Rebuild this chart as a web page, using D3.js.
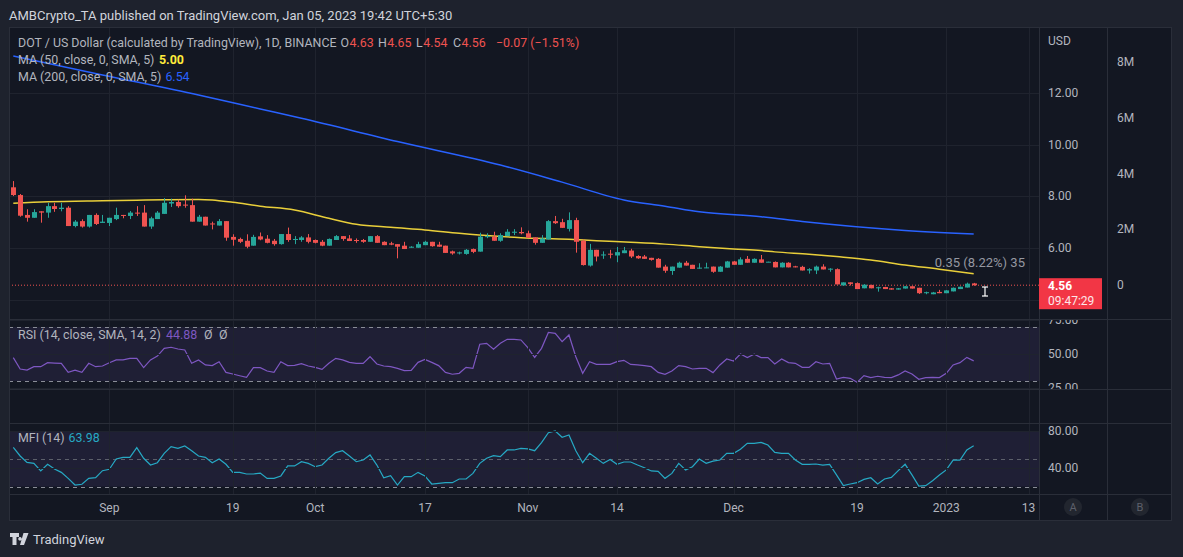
<!DOCTYPE html>
<html><head><meta charset="utf-8">
<script src="https://cdn.jsdelivr.net/npm/d3@7"></script>
<style>
html,body{margin:0;padding:0;background:#1e222d;}
svg{display:block;font-family:Roboto,"Noto Sans",sans-serif;}
</style></head><body>
<svg id="c" width="1183" height="557"></svg>
<script>
// ---------- DATA ----------
const startDate = new Date(Date.UTC(2022, 7, 18)); // first daily candle
const opens = [8.35,8.05,7.28,7.17,7.42,7.37,7.62,7.51,7.56,6.85,7.04,6.83,7.28,6.97,6.97,7.12,7.28,7.24,7.37,7.37,6.83,7.12,7.32,7.72,7.78,7.68,7.66,7.02,7.21,6.95,6.87,7.04,6.43,6.35,6.28,6.09,6.45,6.36,6.28,6.15,6.54,6.31,6.31,6.41,6.31,6.24,6.09,6.31,6.46,6.37,6.31,6.31,6.24,6.46,6.24,6.18,6.15,6.09,6.01,6.01,6.11,6.24,6.13,6.09,5.87,5.79,5.77,5.96,5.86,6.42,6.44,6.28,6.46,6.59,6.62,6.57,6.41,6.20,6.33,7.04,7.00,6.74,7.08,6.28,5.32,5.93,5.71,5.78,5.71,5.80,5.90,5.69,5.67,5.62,5.58,5.28,5.11,5.24,5.43,5.35,5.20,5.22,5.28,5.08,5.24,5.48,5.35,5.58,5.43,5.56,5.45,5.46,5.25,5.43,5.29,5.27,5.13,5.13,5.28,5.17,5.18,4.55,4.67,4.64,4.44,4.57,4.44,4.49,4.44,4.39,4.43,4.52,4.46,4.25,4.21,4.30,4.25,4.32,4.41,4.47,4.63];
const highs = [8.59,8.09,7.50,7.50,7.42,7.75,7.75,7.75,7.62,7.08,7.11,7.28,7.34,7.28,7.17,7.56,7.28,7.43,7.62,7.66,7.21,7.43,7.93,7.91,7.87,8.04,7.91,7.28,7.21,7.02,7.12,7.04,6.53,6.40,6.53,6.51,6.60,6.50,6.35,6.54,6.79,6.46,6.46,6.54,6.33,6.31,6.37,6.50,6.46,6.50,6.37,6.35,6.46,6.50,6.26,6.24,6.15,6.24,6.07,6.24,6.28,6.24,6.24,6.09,5.90,5.86,5.96,5.98,6.59,6.57,6.63,6.57,6.73,6.73,6.80,6.67,6.41,6.50,7.08,7.24,7.13,7.38,7.17,6.33,6.16,5.93,5.87,5.93,6.04,6.04,5.97,5.72,5.73,5.62,5.61,5.35,5.28,5.47,5.50,5.35,5.41,5.43,5.28,5.30,5.50,5.50,5.64,5.69,5.60,5.73,5.47,5.48,5.45,5.45,5.31,5.31,5.22,5.32,5.37,5.22,5.21,4.67,4.67,4.67,4.60,4.58,4.50,4.50,4.45,4.45,4.52,4.52,4.46,4.31,4.30,4.38,4.37,4.47,4.51,4.66,4.65];
const lows = [8.01,7.21,7.02,7.17,6.98,7.17,7.40,7.42,6.85,6.80,6.79,6.79,6.89,6.97,6.85,7.08,7.15,7.12,7.24,6.83,6.74,7.12,7.32,7.59,7.56,7.56,7.02,7.02,6.87,6.72,6.87,6.28,6.09,6.19,5.99,6.09,6.30,6.18,6.09,6.13,6.24,6.15,6.24,6.18,6.18,6.07,6.09,6.31,6.28,6.27,6.20,6.20,6.24,6.20,6.11,6.11,5.60,5.96,6.01,6.01,6.11,6.05,6.05,5.81,5.74,5.75,5.74,5.80,5.86,6.38,6.28,6.24,6.46,6.50,6.53,6.39,6.13,6.20,6.33,6.93,6.78,6.64,5.82,5.32,5.28,5.48,5.58,5.60,5.45,5.80,5.61,5.58,5.58,5.51,5.24,5.04,4.96,5.24,5.32,5.19,5.20,5.22,5.04,5.08,5.24,5.35,5.35,5.43,5.43,5.43,5.45,5.25,5.25,5.25,5.25,5.13,5.01,4.99,5.17,5.08,4.59,4.55,4.55,4.41,4.44,4.44,4.31,4.41,4.39,4.39,4.43,4.43,4.22,4.21,4.21,4.25,4.25,4.32,4.41,4.47,4.54];
const closes = [8.05,7.25,7.17,7.39,7.37,7.62,7.51,7.56,6.85,7.02,6.83,7.28,6.93,7.02,7.17,7.28,7.24,7.37,7.33,6.83,7.15,7.37,7.75,7.78,7.62,7.64,7.02,7.21,6.87,6.91,7.04,6.40,6.32,6.24,6.05,6.43,6.33,6.20,6.15,6.54,6.31,6.35,6.41,6.24,6.20,6.09,6.35,6.46,6.35,6.27,6.27,6.24,6.46,6.20,6.11,6.13,6.05,5.96,6.05,6.15,6.24,6.07,6.05,5.81,5.79,5.83,5.93,5.85,6.44,6.46,6.28,6.50,6.63,6.63,6.57,6.39,6.20,6.37,7.04,6.96,6.78,7.08,6.24,5.34,5.93,5.67,5.75,5.74,5.84,5.91,5.67,5.60,5.58,5.54,5.24,5.12,5.28,5.43,5.32,5.19,5.24,5.25,5.08,5.28,5.48,5.35,5.56,5.43,5.58,5.43,5.47,5.25,5.43,5.25,5.25,5.13,5.18,5.28,5.17,5.20,4.59,4.67,4.61,4.41,4.58,4.44,4.48,4.41,4.39,4.44,4.52,4.43,4.25,4.29,4.28,4.25,4.36,4.46,4.50,4.62,4.56];

const ma50Days = [0,5,13,18,22,27,29,32,36,41,46,50,55,60,65,70,74,81,85,90,95,100,105,109,111,116,120,125,130,135,140];
const ma50Vals = [7.73,7.79,7.83,7.85,7.87,7.88,7.86,7.77,7.62,7.47,7.15,6.92,6.80,6.70,6.57,6.46,6.40,6.34,6.28,6.22,6.15,6.05,5.96,5.90,5.85,5.76,5.67,5.54,5.34,5.18,5.00];
const ma200Days = [0,13,27,36,42,56,71,80,89,95,100,109,115,129,140];
const ma200Vals = [13.43,12.70,11.92,11.38,11.02,10.12,9.21,8.55,7.86,7.62,7.40,7.21,7.03,6.70,6.54];

const rsiVals = [47.3,38.9,38.1,40.6,40.6,43.6,43.3,43.1,36.4,38.1,36.4,43.1,40.6,41.1,43.5,45.6,45.6,46.8,46.8,39.9,45.6,48.5,54.2,55.0,53.7,53.0,43.1,45.6,41.9,41.4,44.3,36.4,35.2,33.9,32.7,39.9,39.9,37.4,36.4,44.3,41.4,41.6,42.8,41.1,40.1,38.6,43.1,46.8,45.6,43.8,43.1,43.1,48.0,42.6,41.1,40.6,39.4,37.7,37.9,43.8,46.0,43.8,41.4,36.4,35.0,35.7,40.1,39.4,57.2,57.9,53.5,57.9,60.9,60.9,60.4,54.7,47.5,54.2,66.0,65.3,59.1,64.1,48.0,35.7,44.3,42.3,42.3,42.3,44.3,45.3,42.3,41.9,41.4,40.6,36.4,35.0,37.4,41.4,40.6,38.9,39.4,39.4,36.2,41.9,46.3,44.8,50.0,47.3,49.8,47.3,47.3,42.6,46.3,43.6,43.1,40.1,40.1,44.3,42.6,43.1,31.5,32.7,32.0,29.0,34.0,32.5,33.5,32.7,32.5,34.5,37.4,35.2,31.3,32.5,32.7,32.5,35.7,41.9,43.6,47.5,44.9];
const mfiVals = [62.4,53.0,46.1,45.0,36.8,44.0,38.9,35.3,28.8,21.6,22.4,28.8,29.5,37.1,38.6,49.7,51.5,51.5,62.0,50.5,43.2,45.7,55.9,63.1,61.3,63.8,58.7,53.0,51.5,45.7,49.7,44.0,35.3,35.3,33.5,33.5,34.5,28.8,28.8,31.4,42.2,42.2,46.8,45.0,41.4,43.2,50.5,56.6,58.7,53.0,46.8,48.6,54.1,43.2,29.5,31.7,21.6,30.6,30.6,35.3,31.4,22.7,23.4,24.1,24.1,28.1,28.1,34.2,45.0,50.5,53.4,52.3,59.5,59.5,61.3,60.6,58.7,67.4,78.2,80.0,73.2,75.7,58.7,45.7,55.9,50.5,45.0,49.3,44.0,46.5,46.5,43.2,40.3,36.8,36.4,28.8,34.2,45.0,37.9,41.4,49.7,45.0,47.5,48.6,55.9,55.9,60.2,66.7,66.7,67.7,64.9,56.9,55.9,55.9,48.6,44.0,44.0,44.3,43.2,44.0,32.5,20.9,22.7,24.1,27.7,29.5,22.7,28.1,29.9,37.1,44.0,32.5,20.5,20.9,26.3,32.5,37.9,48.6,48.6,59.5,64.0];

const priceTicks = [4, 6, 8, 10, 12];
const priceTickLabels = ["4.00", "6.00", "8.00", "10.00", "12.00"];
const volTicks = [0, 2e6, 4e6, 6e6, 8e6];
const volTickLabels = ["0", "2M", "4M", "6M", "8M"];
const rsiTicks = [25, 50, 75];
const rsiTickLabels = ["25.00", "50.00", "75.00"];
const rsiBands = [70, 50, 30];
const mfiTicks = [40, 80];
const mfiTickLabels = ["40.00", "80.00"];
const mfiBands = [80, 50, 20];
const timeTickDates = [[2022,8,1],[2022,8,19],[2022,9,1],[2022,9,17],[2022,10,1],[2022,10,14],[2022,11,1],[2022,11,19],[2023,0,1],[2023,0,13]];
const timeTickLabels = ["Sep","19","Oct","17","Nov","14","Dec","19","2023","13"];
const lastPrice = 4.56;

// ---------- LAYOUT ----------
const L = 9, R = 1172, PR = 1039, VR = 1107;
const mainTop = 27, mainBot = 319, rsiBot = 389, mfiTop = 423, mfiBot = 494, axisBot = 521;
const C = {bg:"#131722", line:"#2a2e39", grid:"#1f232e", text:"#b2b5be", up:"#26a69a", down:"#ef5350"};

const svg = d3.select("#c");
const dates = opens.map((_, i) => d3.utcDay.offset(startDate, i));
const x = d3.scaleUtc().domain([startDate, d3.utcDay.offset(startDate, 148)]).range([13.3, 13.3 + 148 * 6.86]);
const y = d3.scaleLinear().domain([6, 12]).range([248, 93]);
const yVol = d3.scaleLinear().domain([0, 8e6]).range([285, 62]);
const yRsi = d3.scaleLinear().domain([25, 75]).range([387.75, 320.25]);
const yMfi = d3.scaleLinear().domain([40, 80]).range([468, 431]);
const tickDates = timeTickDates.map(d => new Date(Date.UTC(d[0], d[1], d[2])));

// background
svg.append("rect").attr("x", 0).attr("y", 0).attr("width", 1183).attr("height", 557).attr("fill", "#1e222d");
svg.append("rect").attr("x", L).attr("y", mainTop).attr("width", R - L).attr("height", axisBot - mainTop).attr("fill", C.bg);

// header
svg.append("text").attr("x", 9).attr("y", 20).attr("fill", "#d1d4dc").attr("font-size", 13)
  .text("AMBCrypto_TA published on TradingView.com, Jan 05, 2023 19:42 UTC+5:30");

// clip paths
const defs = svg.append("defs");
function clip(id, x0, y0, w, h) { defs.append("clipPath").attr("id", id).append("rect").attr("x", x0).attr("y", y0).attr("width", w).attr("height", h); }
clip("cMain", L, mainTop, PR - L, mainBot - mainTop);
clip("cRsi", L, mainBot, PR - L, rsiBot - mainBot);
clip("cMfi", L, mfiTop, PR - L, mfiBot - mfiTop);
clip("cRsiAx", PR, mainBot + 1, VR - PR, rsiBot - mainBot - 1);

// bands
const gR = svg.append("g").attr("clip-path", "url(#cRsi)");
gR.append("rect").attr("x", L).attr("width", PR - L).attr("y", yRsi(70)).attr("height", yRsi(30) - yRsi(70)).attr("fill", "rgba(126,87,194,0.12)");
const gM = svg.append("g").attr("clip-path", "url(#cMfi)");
gM.append("rect").attr("x", L).attr("width", PR - L).attr("y", yMfi(80)).attr("height", yMfi(20) - yMfi(80)).attr("fill", "rgba(126,87,194,0.12)");

// grids
const gG = svg.append("g").attr("stroke", C.grid).attr("stroke-width", 1);
[[mainTop, mainBot], [mainBot, rsiBot], [rsiBot, mfiTop], [mfiTop, mfiBot]].forEach(([a, b]) => {
  tickDates.forEach(d => gG.append("line").attr("x1", Math.round(x(d)) + 0.5).attr("x2", Math.round(x(d)) + 0.5).attr("y1", a).attr("y2", b));
});
priceTicks.forEach(p => gG.append("line").attr("x1", L).attr("x2", PR).attr("y1", Math.round(y(p)) + 0.5).attr("y2", Math.round(y(p)) + 0.5));
rsiTicks.forEach(p => gG.append("line").attr("x1", L).attr("x2", PR).attr("y1", Math.round(yRsi(p)) + 0.5).attr("y2", Math.round(yRsi(p)) + 0.5).attr("clip-path", "url(#cRsi)"));
mfiTicks.forEach(p => gG.append("line").attr("x1", L).attr("x2", PR).attr("y1", Math.round(yMfi(p)) + 0.5).attr("y2", Math.round(yMfi(p)) + 0.5));

// band dashed lines
rsiBands.forEach(b => gR.append("line").attr("x1", L).attr("x2", PR).attr("y1", Math.round(yRsi(b)) + 0.5).attr("y2", Math.round(yRsi(b)) + 0.5)
  .attr("stroke", b === 50 ? "#c3c6ce" : "#8a8d97").attr("stroke-dasharray", "4,4"));
mfiBands.forEach(b => gM.append("line").attr("x1", L).attr("x2", PR).attr("y1", Math.round(yMfi(b)) + 0.5).attr("y2", Math.round(yMfi(b)) + 0.5)
  .attr("stroke", b === 50 ? "#5d606b" : "#8a8d97").attr("stroke-dasharray", "4,4"));

// main pane
const gP = svg.append("g").attr("clip-path", "url(#cMain)");
const ma200 = ma200Days.map((d, i) => [x(d3.utcDay.offset(startDate, d)), y(ma200Vals[i])]);
const ma50 = ma50Days.map((d, i) => [x(d3.utcDay.offset(startDate, d)), y(ma50Vals[i])]);
const lineGen = d3.line().curve(d3.curveMonotoneX);
gP.append("path").attr("d", lineGen(ma200)).attr("fill", "none").attr("stroke", "#2962ff").attr("stroke-width", 1.5);
gP.append("path").attr("d", lineGen(ma50)).attr("fill", "none").attr("stroke", "#e9cf3a").attr("stroke-width", 1.5);

// last price dotted line
gP.append("line").attr("x1", L).attr("x2", PR).attr("y1", y(lastPrice)).attr("y2", y(lastPrice))
  .attr("stroke", C.down).attr("stroke-dasharray", "1,2");

const cg = gP.selectAll("g.c").data(dates).join("g");
cg.each(function (d, i) {
  const g = d3.select(this);
  const col = closes[i] >= opens[i] ? C.up : C.down;
  const cx = Math.round(x(d));
  g.append("line").attr("x1", cx + 0.5).attr("x2", cx + 0.5).attr("y1", y(highs[i])).attr("y2", y(lows[i])).attr("stroke", col);
  const top = y(Math.max(opens[i], closes[i])), bot = y(Math.min(opens[i], closes[i]));
  g.append("rect").attr("x", cx - 2).attr("width", 5).attr("y", top).attr("height", Math.max(1, bot - top)).attr("fill", col);
});

// measurement label & cursor
svg.append("text").attr("x", 1025).attr("y", 267).attr("text-anchor", "end").attr("fill", "#9598a1").attr("font-size", 13).text("0.35 (8.22%) 35");
const cur = svg.append("g").attr("stroke", "#ffffff").attr("stroke-width", 1.2);
cur.append("line").attr("x1", 985).attr("x2", 985).attr("y1", 287).attr("y2", 296);
cur.append("line").attr("x1", 982).attr("x2", 988).attr("y1", 287).attr("y2", 287);
cur.append("line").attr("x1", 982).attr("x2", 988).attr("y1", 296).attr("y2", 296);

// RSI & MFI lines
const ptsR = dates.map((d, i) => [x(d), yRsi(rsiVals[i])]);
gR.append("path").attr("d", d3.line()(ptsR)).attr("fill", "none").attr("stroke", "#7e57c2").attr("stroke-width", 1.2);
const ptsM = dates.map((d, i) => [x(d), yMfi(mfiVals[i])]);
gM.append("path").attr("d", d3.line()(ptsM)).attr("fill", "none").attr("stroke", "#26a9c4").attr("stroke-width", 1.2);

// legends: parts = [refX, text, colour, weight, minGapAfterPrevious]
function row(yy, parts) {
  let prevEnd = 0;
  parts.forEach(p => {
    const gap = p[4] === undefined ? 4 : p[4];
    const xx = Math.max(p[0], prevEnd + gap);
    const t = svg.append("text").attr("x", xx).attr("y", yy).attr("font-size", 12.4).attr("fill", p[2])
      .attr("font-weight", p[3] || null).text(p[1]);
    prevEnd = xx + t.node().getComputedTextLength();
  });
}
row(47, [[18, "DOT / US Dollar (calculated by TradingView), 1D, BINANCE", C.text], [340, "O", C.text], [347, "4.63", C.down, null, 0.5],
  [378, "H", C.text], [385, "4.65", C.down, null, 0.5], [416, "L", C.text], [422, "4.54", C.down, null, 0.5],
  [453, "C", C.text], [459, "4.56", C.down, null, 0.5], [496, "\u22120.07 (\u22121.51%)", C.down]]);
row(64, [[18, "MA (50, close, 0, SMA, 5)", C.text], [159, "5.00", "#ffeb3b", "bold"]]);
row(81, [[18, "MA (200, close, 0, SMA, 5)", C.text], [165, "6.54", "#2962ff"]]);
row(339, [[18, "RSI (14, close, SMA, 14, 2)", C.text], [166, "44.88", "#7e57c2"], [204, "\u00d8", C.text], [219, "\u00d8", C.text]]);
row(442, [[18, "MFI (14)", C.text], [68, "63.98", "#26a9c4"]]);

// pane borders
const gB = svg.append("g").attr("stroke", C.line).attr("stroke-width", 1);
[mainBot, rsiBot, mfiTop, mfiBot].forEach(v => gB.append("line").attr("x1", L).attr("x2", R).attr("y1", v + 0.5).attr("y2", v + 0.5));
[PR, VR].forEach(v => gB.append("line").attr("x1", v + 0.5).attr("x2", v + 0.5).attr("y1", mainTop).attr("y2", axisBot));
gB.append("rect").attr("x", L + 0.5).attr("y", mainTop + 0.5).attr("width", R - L - 1).attr("height", axisBot - mainTop - 1).attr("fill", "none");

// price axis
const ax = svg.append("g").attr("font-size", 12).attr("fill", C.text);
ax.append("text").attr("x", 1048).attr("y", 45).text("USD");
priceTicks.forEach((p, i) => { if (p !== 4) ax.append("text").attr("x", 1048).attr("y", y(p) + 4).text(priceTickLabels[i]); });
volTicks.forEach((v, i) => ax.append("text").attr("x", 1117).attr("y", yVol(v) + 4).text(volTickLabels[i]));
const axR = ax.append("g").attr("clip-path", "url(#cRsiAx)");
rsiTicks.forEach((v, i) => axR.append("text").attr("x", 1048).attr("y", yRsi(v) + 4).text(rsiTickLabels[i]));
mfiTicks.forEach((v, i) => ax.append("text").attr("x", 1048).attr("y", yMfi(v) + 4).text(mfiTickLabels[i]));

// last price label
const yl = y(lastPrice);
svg.append("rect").attr("x", PR).attr("y", yl - 7).attr("width", 63).attr("height", 31).attr("fill", "#f23645");
svg.append("text").attr("x", 1048).attr("y", yl + 4.5).attr("fill", "#fff").attr("font-size", 12).attr("font-weight", "bold").text("4.56");
svg.append("text").attr("x", 1048).attr("y", yl + 20).attr("fill", "#fde7e9").attr("font-size", 12).text("09:47:29");

// time axis
const tx = svg.append("g").attr("font-size", 12).attr("fill", C.text).attr("text-anchor", "middle");
tickDates.forEach((d, i) => tx.append("text").attr("x", x(d)).attr("y", 512).text(timeTickLabels[i]));
[[1073, "A"], [1140, "B"]].forEach(([cx, t]) => {
  svg.append("circle").attr("cx", cx).attr("cy", 507).attr("r", 9).attr("fill", "#22262f");
  svg.append("text").attr("x", cx).attr("y", 511).attr("text-anchor", "middle").attr("font-size", 11).attr("fill", "#5d606b").text(t);
});

// logo
const lg = svg.append("g").attr("fill", "#d1d4dc");
lg.append("path").attr("d", "M10,533 h9 v4 h-2.5 v8 h-4 v-8 h-2.5 z M20,537 a1.8,1.8 0 1,0 0.01,0 z M23.5,533 h5 l-4.5,12 h-4 z");
lg.append("text").attr("x", 33).attr("y", 544).attr("font-size", 13).attr("fill", "#d1d4dc").text("TradingView");
</script>
</body></html>
